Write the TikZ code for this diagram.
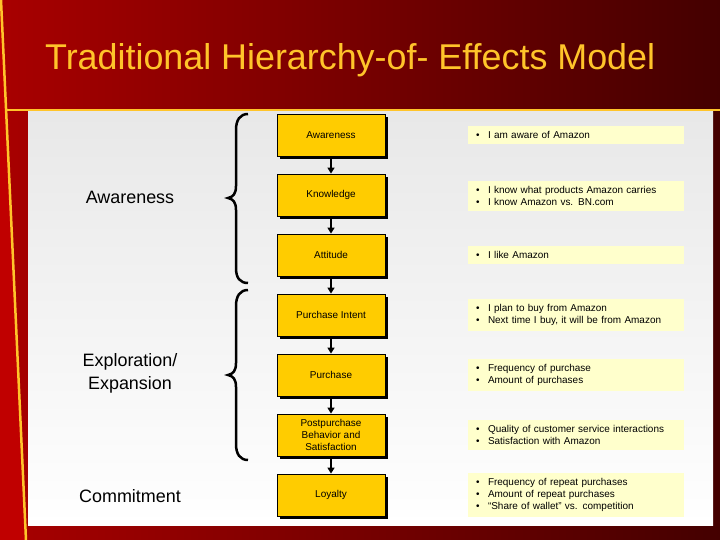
\documentclass[tikz,border=0pt]{standalone}
\usepackage{fontspec}
\setmainfont{Liberation Sans}
\usetikzlibrary{arrows.meta, positioning, shadows}
\definecolor{brightred}{HTML}{C00000}
\definecolor{midred}{HTML}{A80000}
\definecolor{darkred}{HTML}{440000}
\definecolor{gold}{HTML}{FFC42A}
\definecolor{boxyellow}{HTML}{FFCC00}
\definecolor{paleyellow}{HTML}{FFFFCC}
\definecolor{panelgray}{HTML}{E8E8E8}
\newcommand{\bul}{\makebox[12bp][l]{\textbullet}}

\begin{document}
\begin{tikzpicture}[x=1bp, y=-1bp, >={Triangle[length=6bp, width=7bp]}]

\useasboundingbox (0,0) rectangle (720,540);

% Background
\shade[left color=midred, right color=darkred] (0,0) rectangle (720,540);
\fill[brightred] (0,0) -- (1,0) -- (26,540) -- (0,540) -- cycle;
\draw[gold, line width=2.5bp] (1,0) -- (26,540);
\draw[gold, line width=2.5bp] (6,110) -- (720,110);

% Content panel
\shade[top color=panelgray, bottom color=white] (28,112) rectangle (713,525);

% Title
\node[anchor=base west, text=gold, font=\fontsize{36}{40}\selectfont, inner sep=0pt] (title) at (45,70)
  {Traditional Hierarchy-of- Effects Model};

\tikzset{
  stage/.style={draw=black, line width=0.8bp, fill=boxyellow, minimum width=108bp,
    minimum height=42bp, inner sep=2bp, align=center, font=\fontsize{10}{12}\selectfont,
    drop shadow={shadow xshift=3bp, shadow yshift=-3bp, fill=black, opacity=1}},
  note/.style={fill=paleyellow, text width=200bp, inner xsep=8bp, inner ysep=5.5bp,
    align=left, font=\fontsize{10}{12}\selectfont},
  phase/.style={font=\fontsize{18}{23}\selectfont, align=center},
  flow/.style={->, line width=2.8bp}
}

% Stages
\node[stage] (aware) at (331,135) {Awareness};
\node[stage] (know) at (331,195) {Knowledge};
\node[stage] (attit) at (331,255) {Attitude};
\node[stage] (intent) at (331,315) {Purchase Intent};
\node[stage] (purch) at (331,375) {Purchase};
\node[stage] (post) at (331,435) {Postpurchase\\Behavior and\\Satisfaction};
\node[stage] (loyal) at (331,495) {Loyalty};

\draw[flow] (aware) -- (know);
\draw[flow] (know) -- (attit);
\draw[flow] (attit) -- (intent);
\draw[flow] (intent) -- (purch);
\draw[flow] (purch) -- (post);
\draw[flow] (post) -- (loyal);

% Examples
\node[note] (awnote) at (576,135) {\bul I am aware of Amazon};
\node[note] (knnote) at (576,196) {\bul I know what products Amazon carries\\\bul I know Amazon vs. BN.com};
\node[note] (atnote) at (576,255) {\bul I like Amazon};
\node[note] (innote) at (576,315) {\bul I plan to buy from Amazon\\\bul Next time I buy, it will be from Amazon};
\node[note] (punote) at (576,375) {\bul Frequency of purchase\\\bul Amount of purchases};
\node[note] (ponote) at (576,435) {\bul Quality of customer service interactions\\\bul Satisfaction with Amazon};
\node[note] (lonote) at (576,495) {\bul Frequency of repeat purchases\\\bul Amount of repeat purchases\\\bul ``Share of wallet'' vs. competition};

% Phases
\node[phase] (awphase) at (130,197) {Awareness};
\node[phase] (exphase) at (130,373) {Exploration/\\Expansion};
\node[phase] (cophase) at (130,496) {Commitment};

% Braces
\draw[line width=2.5bp] (248,114) .. controls (240,114) and (236,120) .. (236,130)
  -- (236,186) .. controls (236,194) and (233,197) .. (228,198)
  .. controls (233,199) and (236,202) .. (236,210)
  -- (236,268) .. controls (236,278) and (240,283) .. (248,283);
\draw[line width=2.5bp] (248,290) .. controls (240,290) and (236,296) .. (236,306)
  -- (236,363) .. controls (236,371) and (233,374) .. (228,375)
  .. controls (233,376) and (236,379) .. (236,387)
  -- (236,444) .. controls (236,454) and (240,460) .. (248,460);

\end{tikzpicture}
\end{document}
